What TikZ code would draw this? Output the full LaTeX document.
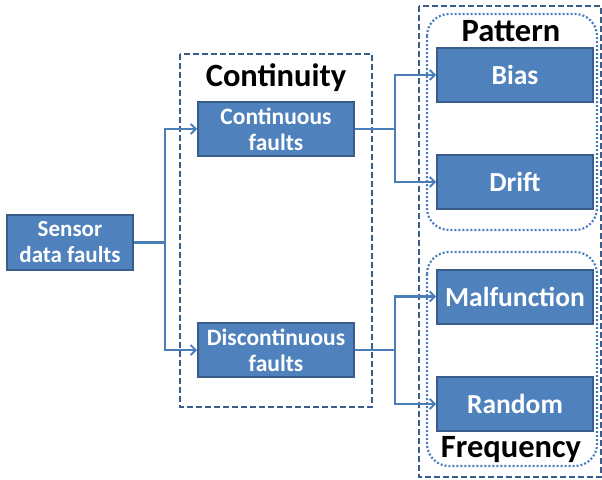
\documentclass[tikz,border=0pt]{standalone}
\usepackage{fontspec}
\setmainfont{Carlito}
\usetikzlibrary{arrows.meta}
\definecolor{boxfill}{HTML}{4F81BD}
\definecolor{boxline}{HTML}{385D8A}
\definecolor{conn}{HTML}{4A7EBB}
\tikzset{
  fbox/.style={draw=boxline, line width=2pt, fill=boxfill, text=white, font=\bfseries, align=center, inner sep=0pt},
  leftbox/.style={fbox, minimum width=156pt, minimum height=54pt, font=\fontsize{23.5}{26}\bfseries\selectfont},
  rightbox/.style={fbox, minimum width=156pt, minimum height=54pt, font=\fontsize{27.5}{30}\bfseries\selectfont},
  conn/.style={draw=conn, line width=2.2pt},
  arr/.style={conn, -{Straight Barb[length=5pt,width=10pt,line width=1.8pt]}},
  dashbox/.style={draw=boxline, line width=2.2pt, dash pattern=on 6pt off 3pt},
  dotbox/.style={draw=conn, line width=2.2pt, dash pattern=on 2pt off 2pt, rounded corners=22pt},
  title/.style={font=\fontsize{32.5}{34}\bfseries\selectfont, text=black}
}
\begin{document}
\begin{tikzpicture}[x=1pt,y=-1pt]
\useasboundingbox (0,0) rectangle (602,479);
% group boxes
\draw[dashbox] (180,54) rectangle (372,407);
\draw[dashbox] (419,6) rectangle (601,477);
\draw[dotbox] (427,14) rectangle (597,230);
\draw[dotbox] (427,252) rectangle (597,466);
% titles
\node[title] (tcont) at (276,78) {Continuity};
\node[title] (tpat) at (511,31) {Pattern};
\node[title] (tfreq) at (511,450) {Frequency};
% boxes
\node[fbox, minimum width=126pt, minimum height=55pt, font=\fontsize{23}{26}\bfseries\selectfont] (sensor) at (70,242.5) {Sensor\\data faults};
\node[leftbox] (cont) at (276,129) {Continuous\\faults};
\node[leftbox] (disc) at (276,350) {Discontinuous\\faults};
\node[rightbox] (bias) at (515,75) {Bias};
\node[rightbox] (drift) at (515,182) {Drift};
\node[rightbox] (malf) at (515,296.5) {Malfunction};
\node[rightbox] (rand) at (515,404) {Random};
% connectors
\coordinate (j1) at (165,242.5);
\coordinate (j2) at (395,129);
\coordinate (j3) at (395,350);
\draw[conn] (sensor.east) -- (j1);
\draw[arr] (j1) |- (cont.west);
\draw[arr] (j1) |- (disc.west);
\draw[conn] (cont.east) -- (j2);
\draw[arr] (j2) |- (bias.west);
\draw[arr] (j2) |- (drift.west);
\draw[conn] (disc.east) -- (j3);
\draw[arr] (j3) |- (malf.west);
\draw[arr] (j3) |- (rand.west);
\end{tikzpicture}
\end{document}
